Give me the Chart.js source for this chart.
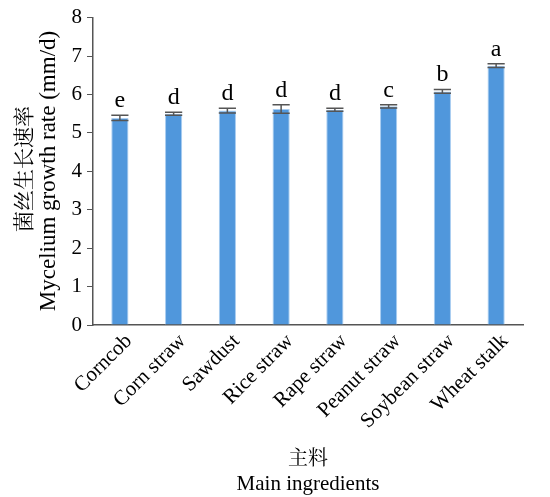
<!DOCTYPE html>
<html>
<head>
<meta charset="utf-8">
<script src="https://cdn.jsdelivr.net/npm/chart.js@4"></script>
<style>
  html, body { margin: 0; padding: 0; background: #fff; }
  #wrap { width: 550px; height: 497px; }
</style>
</head>
<body>
<div id="wrap"><canvas id="chart" width="550" height="497"></canvas></div>
<script>
// datos
var ingredientes = ["Corncob", "Corn straw", "Sawdust", "Rice straw", "Rape straw", "Peanut straw", "Soybean straw", "Wheat stalk"];
var tasa = [5.39, 5.50, 5.58, 5.62, 5.60, 5.69, 6.08, 6.75];
var errores = [0.07, 0.04, 0.06, 0.11, 0.04, 0.04, 0.05, 0.05];
var letras = ["e", "d", "d", "d", "d", "c", "b", "a"];

var serif = "'Liberation Serif', 'Times New Roman', serif";
var cjk = "'Noto Serif CJK SC', 'Noto Sans CJK SC', serif";

// barras de error, letras y titulos de ejes
var extras = {
  id: "extras",
  afterDatasetsDraw: function(chart) {
    var ctx = chart.ctx;
    var meta = chart.getDatasetMeta(0);
    var y = chart.scales.y;
    ctx.save();
    meta.data.forEach(function(bar, i) {
      var top = y.getPixelForValue(tasa[i] + errores[i]);
      var bot = y.getPixelForValue(tasa[i] - errores[i]);
      var half = bar.width / 2;
      ctx.strokeStyle = "#555";
      ctx.lineWidth = 1.5;
      ctx.beginPath();
      ctx.moveTo(bar.x, top); ctx.lineTo(bar.x, bot);
      ctx.moveTo(bar.x - half, top); ctx.lineTo(bar.x + half, top);
      ctx.moveTo(bar.x - half, bot); ctx.lineTo(bar.x + half, bot);
      ctx.stroke();
      ctx.fillStyle = "#000";
      ctx.font = "24px " + serif;
      ctx.textAlign = "center";
      ctx.textBaseline = "alphabetic";
      ctx.fillText(letras[i], bar.x, top - 8);
    });
    ctx.restore();
  },
  afterDraw: function(chart) {
    var ctx = chart.ctx;
    ctx.save();
    ctx.fillStyle = "#000";
    ctx.textAlign = "center";
    ctx.textBaseline = "middle";
    // titulo eje y
    ctx.save();
    ctx.translate(23, 169);
    ctx.rotate(-Math.PI / 2);
    ctx.font = "21px " + cjk;
    ctx.fillText("菌丝生长速率", 0, 0);
    ctx.restore();
    ctx.save();
    ctx.translate(49, 171);
    ctx.rotate(-Math.PI / 2);
    ctx.font = "23px " + serif;
    ctx.fillText("Mycelium growth rate (mm/d)", 0, 0);
    ctx.restore();
    // titulo eje x
    ctx.font = "20px " + cjk;
    ctx.fillText("主料", 308, 457);
    ctx.font = "21px " + serif;
    ctx.fillText("Main ingredients", 308, 484);
    ctx.restore();
  }
};

var chart = new Chart("chart", {
  type: "bar",
  data: {
    labels: ingredientes,
    datasets: [{
      data: tasa,
      backgroundColor: "#5097dc",
      borderColor: "#a9cdf1",
      borderWidth: 1,
      categoryPercentage: 1,
      barPercentage: 0.32
    }]
  },
  options: {
    responsive: false,
    animation: false,
    layout: { padding: { top: 15, right: 27, left: 0, bottom: 0 } },
    plugins: { legend: { display: false }, tooltip: { enabled: false } },
    scales: {
      x: {
        grid: { drawOnChartArea: false, drawTicks: false },
        border: { color: "#555", width: 1.5 },
        ticks: {
          color: "#000",
          font: { family: serif, size: 21 },
          minRotation: 45,
          maxRotation: 45,
          padding: 4,
          labelOffset: 9
        },
        afterFit: function(s) { s.height = 172; }
      },
      y: {
        min: 0,
        max: 8,
        grid: { drawOnChartArea: false, drawTicks: true, tickLength: 6, color: "#555" },
        border: { color: "#555", width: 1.5 },
        ticks: {
          stepSize: 1,
          color: "#000",
          font: { family: serif, size: 21 },
          padding: 5
        },
        afterFit: function(s) { s.width = 93; }
      }
    }
  },
  plugins: [extras]
});
</script>
</body>
</html>
